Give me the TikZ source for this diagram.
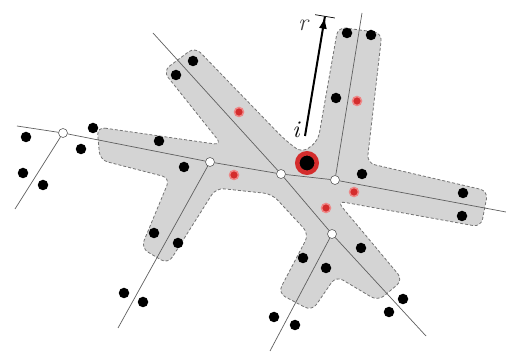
\documentclass[tikz,border=0pt]{standalone}
\usetikzlibrary{arrows.meta}
\definecolor{colBlob}{RGB}{212,212,212}
\definecolor{colEdge}{RGB}{115,115,115}
\definecolor{colLine}{RGB}{95,95,95}
\definecolor{colRed}{RGB}{212,45,45}
\definecolor{colPink}{RGB}{238,135,135}
\tikzset{
  blob/.style={
    fill=colBlob, draw=colEdge, line width=0.8pt,
    dash pattern=on 3pt off 2pt, rounded corners=8pt
  },
  skel/.style={draw=colLine, line width=0.7pt},
  bdot/.style={circle, fill=black, minimum size=10.5pt, inner sep=0pt},
  rdot/.style={circle, fill=colRed, draw=colPink, line width=1.5pt, minimum size=9pt, inner sep=0pt},
  wdot/.style={circle, fill=white, draw=colLine, line width=0.6pt, minimum size=9pt, inner sep=0pt},
  seed/.style={circle, fill=black, draw=colRed, line width=4.5pt, minimum size=19.5pt, inner sep=0pt},
  arr/.style={
    -{Latex[length=12pt,width=8pt] Bar[width=20pt,line width=0.7pt]}, line width=2pt
  },
  lbl/.style={font=\fontsize{24}{24}\selectfont\itshape, inner sep=0pt}
}

\begin{document}
\begin{tikzpicture}[x=1pt, y=-1pt]
  \useasboundingbox (0,0) rectangle (506,352);

  % grey region round the branches
  \draw[blob] (97,127) -- (222,145) -- (163,71) -- (195,47) -- (284,139)
    -- (302,153) -- (318,141) -- (338,27) -- (382,33) -- (367,163)
    -- (488,191) -- (481,227) -- (337,201) -- (403,280) -- (378,301)
    -- (336,276) -- (312,311) -- (278,293) -- (309,234) -- (272,194)
    -- (216,188) -- (168,264) -- (141,248) -- (170,178) -- (100,160) -- cycle;

  % branch points
  \node[wdot] (w0) at (63,133) {};
  \node[wdot] (j1) at (210,162) {};
  \node[wdot] (ctr) at (281,174) {};
  \node[wdot] (j3) at (335,180) {};
  \node[wdot] (j4) at (332,234) {};

  % free ends of the skeleton
  \coordinate (eW) at (17,126);
  \coordinate (eE) at (506,212);
  \coordinate (eNW) at (153,33);
  \coordinate (eSE) at (426,336);
  \coordinate (eN) at (362,13);
  \coordinate (eSW) at (118,328);
  \coordinate (eS) at (270,351);
  \coordinate (eFar) at (15,209);

  % skeleton
  \draw[skel] (eW) -- (w0) -- (j1) -- (ctr) -- (j3) -- (eE);
  \draw[skel] (eNW) -- (ctr) -- (j4) -- (eSE);
  \draw[skel] (eN) -- (j3);
  \draw[skel] (j1) -- (eSW);
  \draw[skel] (j4) -- (eS);
  \draw[skel] (w0) -- (eFar);

  % samples
  \foreach \x/\y [count=\k] in {193/61, 176/75, 93/128, 26/137, 81/149, 159/141,
      184/167, 23/173, 43/185, 154/233, 178/243, 124/293, 143/302, 347/33,
      371/35, 336/98, 362/174, 463/193, 462/216, 361/248, 303/258, 326/268,
      403/299, 389/312, 274/317, 295/325}
    \node[bdot] (b\k) at (\x,\y) {};
  \foreach \x/\y [count=\k] in {239/112, 234/175, 357/101, 354/192, 326/208}
    \node[rdot] (r\k) at (\x,\y) {};
  \node[seed] (pi) at (307,163) {};

  % radius
  \coordinate (rBase) at (305,136);
  \coordinate (rTip) at (325,16);
  \draw[arr] (rBase) -- (rTip);
  \node[lbl] (iLbl) at (296,130) {i};
  \node[lbl, text=black!75] (rLbl) at (303,25) {r};

\end{tikzpicture}
\end{document}
